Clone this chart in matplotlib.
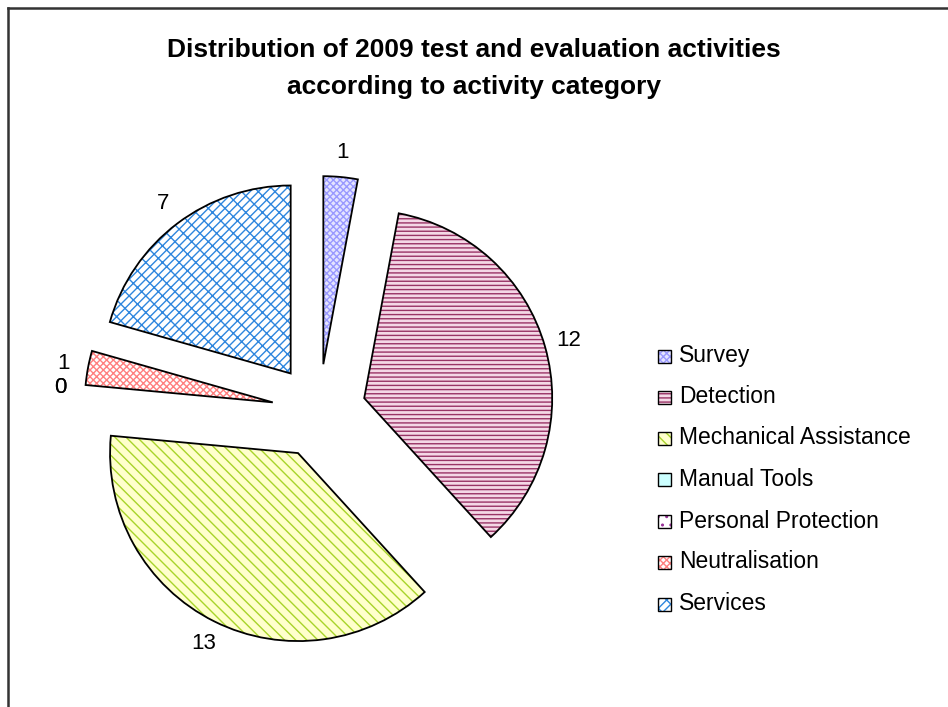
import matplotlib
matplotlib.use("Agg")
import matplotlib.pyplot as plt
from matplotlib.patches import Rectangle
from matplotlib.lines import Line2D

plt.rcParams['font.family'] = ['Liberation Sans', 'DejaVu Sans']
plt.rcParams['hatch.linewidth'] = 1.0

categories = ["Survey", "Detection", "Mechanical Assistance", "Manual Tools",
              "Personal Protection", "Neutralisation", "Services"]
values = [1, 12, 13, 0, 0, 1, 7]
title_lines = ["Distribution of 2009 test and evaluation activities",
               "according to activity category"]

face_colors = ['#E4E4FF', '#F4D8E6', '#FFFFCC', '#CCFFFF', '#FFFFFF', '#FFFFFF', '#FFFFFF']
hatch_colors = ['#9999FF', '#993366', '#A8D42A', '#CCFFFF', '#993399', '#FF8080', '#2E86DE']
hatches = ['xxxxx', '----', '\\\\\\', '', '..', 'xxxxx', 'xx//']

W, H = 948, 707
fig = plt.figure(figsize=(W / 100, H / 100), dpi=100)
ax = fig.add_axes([0, 0, 1, 1])

cx, cy, R = 319, 411, 188  # pixel centre and radius
explode = [0.25] * len(values)

wedges, texts = ax.pie(values, startangle=90, counterclock=False, explode=explode,
                       labels=[str(v) for v in values], labeldistance=1.13,
                       colors=face_colors, wedgeprops=dict(linewidth=0),
                       textprops=dict(fontsize=16, color='black', ha='center', va='center'))
for w, hc, h in zip(wedges, hatch_colors, hatches):
    w.set_edgecolor(hc)
    w.set_hatch(h)
    w.set_linewidth(0)

outline, _ = ax.pie(values, startangle=90, counterclock=False, explode=explode,
                    colors=['none'] * len(values),
                    wedgeprops=dict(linewidth=1.3, edgecolor='black', fill=False))
for w, v in zip(outline, values):
    if v == 0:
        w.set_visible(False)

ax.set_xlim((0 - cx) / R, (W - cx) / R)
ax.set_ylim((cy - H) / R, cy / R)
ax.set_aspect('auto')
ax.axis('off')

# title
for line, y in zip(title_lines, [50, 87]):
    fig.text(474 / W, 1 - y / H, line, ha='center', va='center',
             fontsize=19, fontweight='bold')

# legend
ys = [356, 397, 438, 479, 521, 562, 604]
for cat, fc, hc, h, y in zip(categories, face_colors, hatch_colors, hatches, ys):
    sq = Rectangle((658 / W, 1 - (y + 7) / H), 13 / W, 13 / H, transform=fig.transFigure,
                   facecolor=fc, edgecolor=hc, hatch=h, linewidth=0)
    fig.patches.append(sq)
    sq2 = Rectangle((658 / W, 1 - (y + 7) / H), 13 / W, 13 / H, transform=fig.transFigure,
                    fill=False, edgecolor='black', linewidth=1.0)
    fig.patches.append(sq2)
    fig.text(679 / W, 1 - y / H, cat, ha='left', va='center', fontsize=16.5)

# chart border
fig.add_artist(Line2D([8 / W, 8 / W], [0, 1 - 8 / H], color='#333333', lw=1.8,
                      transform=fig.transFigure))
fig.add_artist(Line2D([8 / W, 1], [1 - 8 / H, 1 - 8 / H], color='#333333', lw=1.8,
                      transform=fig.transFigure))

fig.savefig("out.png", dpi=100)
